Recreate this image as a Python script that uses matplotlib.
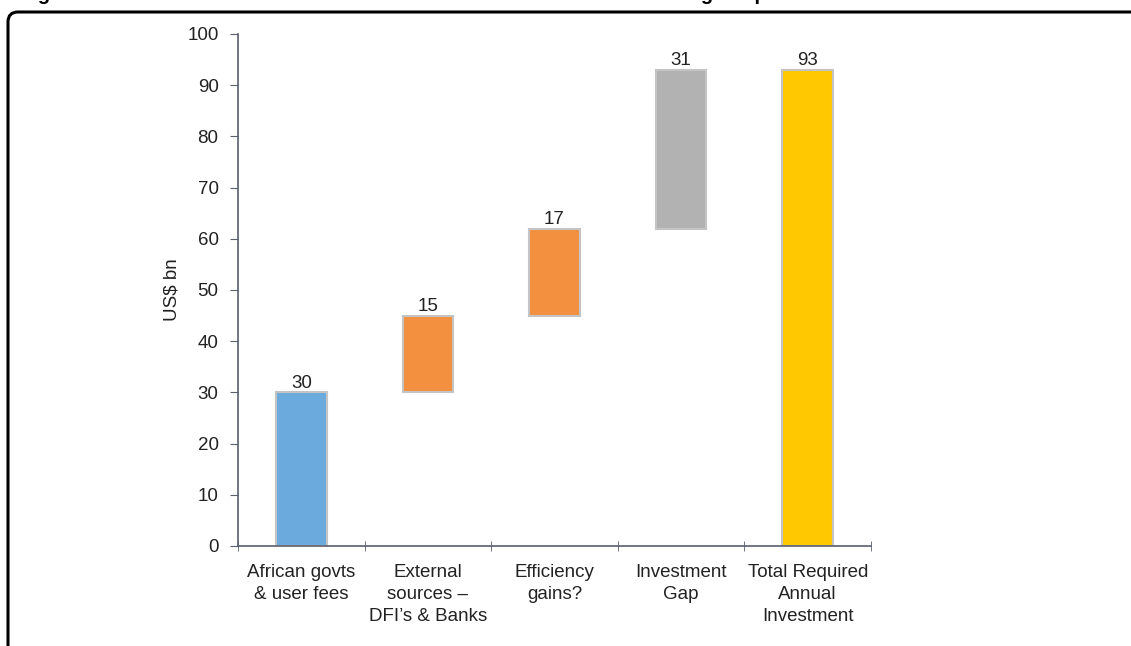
import numpy as np
from matplotlib import pyplot as plt
from matplotlib.patches import FancyBboxPatch
from matplotlib.transforms import IdentityTransform

plt.rcParams['font.family'] = ['Liberation Sans', 'DejaVu Sans']

categories = ['African govts\n& user fees', 'External\nsources –\nDFI’s & Banks',
              'Efficiency\ngains?', 'Investment\nGap', 'Total Required\nAnnual\nInvestment']
values = [30, 15, 17, 31, 93]
bases = [0, 30, 45, 62, 0]
colors = ['#6aaadc', '#f39040', '#f39040', '#b2b2b2', '#ffc800']
title = 'Figure 1: Sources of annual infrastructure investment in Africa including the potential shortfall'


def main():
    fig = plt.figure(figsize=(11.31, 6.46), dpi=100)
    ax = fig.add_axes([238 / 1131, 1 - 546 / 646, (871 - 238) / 1131, (546 - 34) / 646])

    x = np.arange(len(values))
    ax.bar(x, values, bottom=bases, width=0.4, color=colors,
           edgecolor='#c4c4c4', linewidth=1.5)
    for xi, v, b in zip(x, values, bases):
        ax.annotate(str(v), (xi, v + b), xytext=(0, 0.5), textcoords='offset points',
                    ha='center', va='bottom', fontsize=13.5, color='#222222')

    ax.set_xlim(-0.5, len(values) - 0.5)
    ax.set_ylim(0, 100)
    ax.set_yticks(np.arange(0, 101, 10))
    ax.set_xticks(x)
    ax.set_xticklabels(categories, fontsize=13.5, color='#222222', linespacing=1.4)
    ax.set_xticks(np.arange(-0.5, len(values)), minor=True)
    ax.tick_params(axis='x', which='major', length=0, pad=13)
    ax.tick_params(axis='x', which='minor', length=7, direction='inout', color='#5a5f6e')
    ax.tick_params(axis='y', length=6, color='#5a5f6e', labelsize=13.5, labelcolor='#222222', pad=8)
    ax.set_ylabel('US$ bn', fontsize=13.5, color='#222222', labelpad=5)

    for s in ['top', 'right']:
        ax.spines[s].set_visible(False)
    for s in ['left', 'bottom']:
        ax.spines[s].set_color('#5a5f6e')
        ax.spines[s].set_linewidth(1.2)

    # frame round the figure, only top and left side visible
    frame = FancyBboxPatch((8, -60), 1400, 646 - 12 + 60,
                           boxstyle='round,pad=0,rounding_size=10',
                           transform=IdentityTransform(), fill=False,
                           edgecolor='black', linewidth=2.2)
    fig.patches.append(frame)

    # title is cut off at the top of the picture, as in the source
    fig.text(20 / 1131, 1.0, title, fontsize=14.5, fontweight='bold',
             ha='left', va='baseline', color='black')

    fig.savefig('out.png', dpi=100)


if __name__ == '__main__':
    main()
